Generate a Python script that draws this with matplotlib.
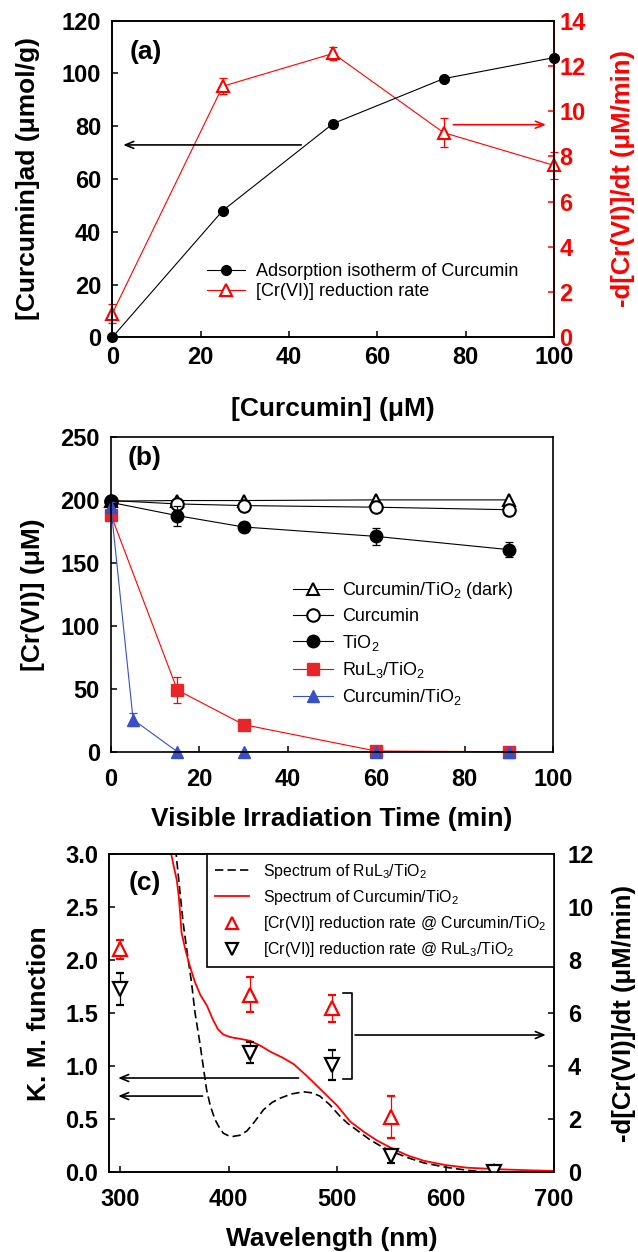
import matplotlib
matplotlib.use('Agg')
import matplotlib.pyplot as plt
from matplotlib.lines import Line2D

plt.rcParams['font.family'] = ['Liberation Sans', 'DejaVu Sans']
plt.rcParams['mathtext.fontset'] = 'custom'
plt.rcParams['mathtext.rm'] = 'Liberation Sans'
plt.rcParams['mathtext.default'] = 'regular'
plt.rcParams['xtick.direction'] = 'in'
plt.rcParams['ytick.direction'] = 'in'
plt.rcParams['axes.linewidth'] = 1.2

# ---- (a) adsorption isotherm + reduction rate ----
conc = [0, 25, 50, 75, 100]
ads = [0, 48, 81, 98, 106]
rate_a = [1.05, 11.1, 12.55, 9.05, 7.6]
rate_a_err = [0.4, 0.35, 0.3, 0.65, 0.6]

# ---- (b) Cr(VI) vs time ----
t = [0, 15, 30, 60, 90]
dark = [199, 199.5, 199.5, 200, 200]
curc = [199.5, 196.8, 195.5, 194.2, 192.2]
tio2 = [198, 187.5, 178.5, 171, 160.5]
tio2_err = [2, 8, 4, 7, 6]
ru = [188, 49, 21.5, 0.5, 0]
ru_err = [3, 10, 2, 1, 1]
t_cur = [0, 5, 15, 30, 60, 90]
cur_tio2 = [194, 25.5, 0, 0, 0, 0]
cur_tio2_err = [4, 5, 0.5, 0, 0, 0]

# ---- (c) spectra + rates vs wavelength ----
wl_cur = [346, 349, 352, 354, 356.5, 360, 364, 369, 374, 380, 385, 390, 395, 400,
          404, 410, 420, 430, 438, 450, 460, 472, 481, 491, 500, 512, 525, 537,
          550, 565, 580, 600, 620, 650, 680, 700]
km_cur = [3.05, 2.9, 2.76, 2.6, 2.26, 2.1, 1.95, 1.79, 1.67, 1.57, 1.45, 1.35, 1.3, 1.28,
          1.27, 1.26, 1.24, 1.19, 1.14, 1.08, 1.02, 0.91, 0.82, 0.72, 0.63, 0.48, 0.38, 0.30,
          0.23, 0.16, 0.11, 0.07, 0.045, 0.03, 0.02, 0.015]
wl_ru = [351, 354, 358, 362, 365.7, 369, 373.4, 376.5, 379.6, 383, 387.3, 391, 395, 400,
         404, 410, 416.7, 424, 432, 440, 447.5, 458, 469, 477, 484, 493, 502.6, 510,
         518, 530, 540, 550, 565, 580, 595, 600, 610, 625, 640, 660, 690]
km_ru = [3.05, 2.75, 2.35, 2.05, 1.79, 1.5, 1.22, 1.0, 0.78, 0.63, 0.50, 0.43, 0.37, 0.345,
         0.34, 0.35, 0.39, 0.48, 0.59, 0.66, 0.70, 0.74, 0.76, 0.75, 0.72, 0.64, 0.53, 0.46,
         0.40, 0.31, 0.25, 0.20, 0.14, 0.09, 0.06, 0.05, 0.035, 0.015, 0.005, 0.0, 0.0]
wl_pts = [300, 420, 495, 550, 645]
rate_cur = [8.41, 6.7, 6.18, 2.1, 0.05]
rate_cur_err = [0.36, 0.65, 0.5, 0.8, 0.12]
rate_ru = [6.9, 4.52, 4.05, 0.62, 0.0]
rate_ru_err = [0.6, 0.41, 0.55, 0.28, 0.08]

TICK = dict(labelsize=17, length=4, width=1.1)
LAB = dict(fontsize=19, fontweight='bold')
RLAB = dict(fontsize=18.5, fontweight='bold')
BLUE = '#3a4fc4'


def bold_ticks(ax):
    for lb in ax.get_xticklabels() + ax.get_yticklabels():
        lb.set_fontweight('bold')


fig = plt.figure(figsize=(6.38, 12.52), dpi=100)

# =========== (a) ===========
ax1 = fig.add_axes([0.176, 0.7306, 0.6923, 0.2529])
ax1r = ax1.twinx()
ax1.set_zorder(ax1r.get_zorder() + 1)
ax1.patch.set_visible(False)

h1, = ax1.plot(conc, ads, '-o', color='black', lw=0.8, ms=7, clip_on=False, zorder=5)
ax1r.errorbar(conc, rate_a, yerr=rate_a_err, fmt='none', ecolor='red', elinewidth=0.9,
              capsize=3, capthick=0.9, clip_on=False)
h2, = ax1r.plot(conc, rate_a, '-^', color='red', mfc='white', mec='red', mew=1.5, ms=8,
                lw=0.8, clip_on=False)

ax1.set_xlim(0, 100)
ax1.set_ylim(0, 120)
ax1r.set_ylim(0, 14)
ax1.set_xticks(range(0, 101, 20))
ax1.set_yticks(range(0, 121, 20))
ax1r.set_yticks(range(0, 15, 2))
ax1.tick_params(axis='y', pad=8, **TICK)
ax1.tick_params(axis='x', pad=6, **TICK)
ax1r.tick_params(axis='y', pad=4, colors='red', **TICK)
ax1r.spines['right'].set_color('red')
bold_ticks(ax1)
bold_ticks(ax1r)

ax1.set_xlabel('[Curcumin] (μM)', va='center', **LAB)
ax1.xaxis.set_label_coords(0.5, -0.225)
ax1.set_ylabel('[Curcumin]ad (μmol/g)', va='center', **LAB)
ax1.yaxis.set_label_coords(-0.19, 0.5)
ax1r.set_ylabel('-d[Cr(VI)]/dt (μM/min)', va='center', rotation=90, color='red', **RLAB)
ax1r.yaxis.set_label_coords(1.157, 0.5)

ax1.annotate('', xy=(1.85, 72.9), xytext=(43.4, 72.9),
             arrowprops=dict(arrowstyle='->,head_length=0.6,head_width=0.25', color='black', lw=1.2))
ax1r.annotate('', xy=(98.8, 9.4), xytext=(76.6, 9.4),
              arrowprops=dict(arrowstyle='->,head_length=0.6,head_width=0.25', color='red', lw=1.2))
ax1.text(0.04, 0.9, '(a)', transform=ax1.transAxes, fontsize=19, fontweight='bold',
         ha='left', va='center')
ax1.legend([h1, h2], ['Adsorption isotherm of Curcumin', '[Cr(VI)] reduction rate'],
           loc='upper left', bbox_to_anchor=(0.215, 0.235), frameon=False, fontsize=13,
           borderpad=0, borderaxespad=0, handlelength=2.1, handletextpad=0.6,
           labelspacing=0.2)

# =========== (b) ===========
ax2 = fig.add_axes([0.174, 0.3996, 0.6928, 0.2514])
hb1, = ax2.plot(t, dark, '-^', color='black', mfc='white', mec='black', mew=1.5, ms=9,
                lw=0.8, clip_on=False)
hb2, = ax2.plot(t, curc, '-o', color='black', mfc='white', mec='black', mew=1.5, ms=9,
                lw=0.8, clip_on=False)
ax2.errorbar(t, tio2, yerr=tio2_err, fmt='none', ecolor='black', elinewidth=0.9,
             capsize=3, capthick=0.9)
hb3, = ax2.plot(t, tio2, '-o', color='black', ms=9, lw=0.8, clip_on=False)
ax2.errorbar(t, ru, yerr=ru_err, fmt='none', ecolor='red', elinewidth=0.9,
             capsize=3, capthick=0.9)
hb4, = ax2.plot(t, ru, '-s', color='red', mfc='#e8262a', mec='#e8262a', ms=9, lw=0.8,
                clip_on=False)
ax2.errorbar(t_cur, cur_tio2, yerr=cur_tio2_err, fmt='none', ecolor=BLUE, elinewidth=0.9,
             capsize=3, capthick=0.9)
hb5, = ax2.plot(t_cur, cur_tio2, '-^', color=BLUE, ms=9, lw=0.8, clip_on=False)

ax2.set_xlim(0, 100)
ax2.set_ylim(0, 250)
ax2.set_xticks(range(0, 101, 20))
ax2.set_yticks(range(0, 251, 50))
ax2.tick_params(axis='y', pad=8, **TICK)
ax2.tick_params(axis='x', pad=12, **TICK)
bold_ticks(ax2)
ax2.set_xlabel('Visible Irradiation Time (min)', va='center', **LAB)
ax2.xaxis.set_label_coords(0.5, -0.215)
ax2.set_ylabel('[Cr(VI)] (μM)', va='center', **LAB)
ax2.yaxis.set_label_coords(-0.176, 0.5)
ax2.text(0.038, 0.933, '(b)', transform=ax2.transAxes, fontsize=19, fontweight='bold',
         ha='left', va='center')
ax2.legend([hb1, hb2, hb3, hb4, hb5],
           ['Curcumin/TiO$_2$ (dark)', 'Curcumin', 'TiO$_2$', 'RuL$_3$/TiO$_2$',
            'Curcumin/TiO$_2$'],
           loc='upper left', bbox_to_anchor=(0.412, 0.545), frameon=False, fontsize=13,
           borderpad=0, borderaxespad=0, handlelength=2.2, handletextpad=0.5,
           labelspacing=0.4)

# =========== (c) ===========
ax3 = fig.add_axes([0.1715, 0.0635, 0.6969, 0.2544])
ax3r = ax3.twinx()
hc1, = ax3.plot(wl_ru, km_ru, color='black', lw=1.2, ls=(0, (5, 2.5)))
hc2, = ax3.plot(wl_cur, km_cur, color='red', lw=1.3)
ax3r.errorbar(wl_pts, rate_cur, yerr=rate_cur_err, fmt='^', color='red', mfc='white',
              mec='red', mew=1.6, ms=10, elinewidth=0.9, capsize=3, capthick=0.9)
ax3r.errorbar(wl_pts, rate_ru, yerr=rate_ru_err, fmt='v', color='black', mfc='white',
              mec='black', mew=1.6, ms=10, elinewidth=0.9, capsize=3, capthick=0.9)
hc3 = Line2D([], [], ls='none', marker='^', mfc='white', mec='red', mew=1.6, ms=8)
hc4 = Line2D([], [], ls='none', marker='v', mfc='white', mec='black', mew=1.6, ms=8)

ax3.set_xlim(290, 700)
ax3.set_ylim(0, 3)
ax3r.set_ylim(0, 12)
ax3.set_xticks(range(300, 701, 100))
ax3.set_yticks([0, 0.5, 1.0, 1.5, 2.0, 2.5, 3.0])
ax3.set_yticklabels(['0.0', '0.5', '1.0', '1.5', '2.0', '2.5', '3.0'])
ax3r.set_yticks(range(0, 13, 2))
ax3.tick_params(axis='y', pad=8, **TICK)
ax3.tick_params(axis='x', pad=11, **TICK)
ax3r.tick_params(axis='y', pad=10, **TICK)
bold_ticks(ax3)
bold_ticks(ax3r)
ax3.set_xlabel('Wavelength (nm)', va='center', **LAB)
ax3.xaxis.set_label_coords(0.5, -0.21)
ax3.set_ylabel('K. M. function', va='center', **LAB)
ax3.yaxis.set_label_coords(-0.158, 0.5)
ax3r.set_ylabel('-d[Cr(VI)]/dt (μM/min)', va='center', rotation=90, **RLAB)
ax3r.yaxis.set_label_coords(1.157, 0.5)

arr = dict(arrowstyle='->,head_length=0.6,head_width=0.25', color='black', lw=1.2)
ax3.annotate('', xy=(295.5, 0.89), xytext=(467, 0.89), arrowprops=arr)
ax3.annotate('', xy=(295.5, 0.72), xytext=(378.4, 0.72), arrowprops=arr)
ax3r.plot([505.6, 514, 514, 505.6], [6.75, 6.75, 3.53, 3.53], color='black', lw=1.2)
ax3r.annotate('', xy=(695, 5.18), xytext=(514, 5.18), arrowprops=arr)
ax3.text(0.043, 0.909, '(c)', transform=ax3.transAxes, fontsize=19, fontweight='bold',
         ha='left', va='center')
leg = ax3r.legend([hc1, hc2, hc3, hc4],
                  ['Spectrum of RuL$_3$/TiO$_2$', 'Spectrum of Curcumin/TiO$_2$',
                   '[Cr(VI)] reduction rate @ Curcumin/TiO$_2$',
                   '[Cr(VI)] reduction rate @ RuL$_3$/TiO$_2$'],
                  loc='upper right', bbox_to_anchor=(1, 1), borderaxespad=0, fontsize=11.4,
                  fancybox=False, edgecolor='black', framealpha=1, handlelength=2.2,
                  handletextpad=0.85, labelspacing=0.45, borderpad=0.5)
leg.get_frame().set_linewidth(1.2)

fig.savefig('out.png', dpi=100, facecolor='white')
